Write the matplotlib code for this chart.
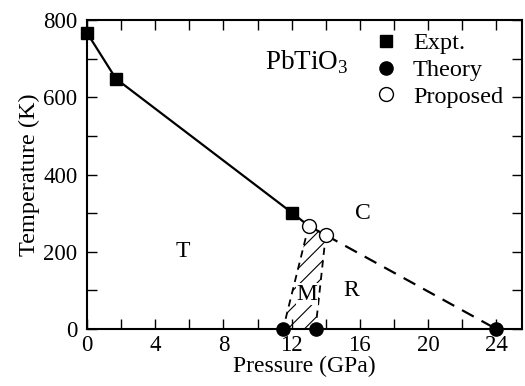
import matplotlib
matplotlib.use("Agg")
import matplotlib.pyplot as plt
from matplotlib.ticker import MultipleLocator

plt.rcParams['font.family'] = ['Liberation Serif', 'DejaVu Serif']
plt.rcParams['mathtext.fontset'] = 'custom'
plt.rcParams['mathtext.rm'] = 'Liberation Serif'
plt.rcParams['hatch.linewidth'] = 0.8

expt_p = [0.0, 1.7, 12.05]
expt_t = [767, 648, 300]
theory_p = [11.5, 13.4, 24.0]
theory_t = [0, 0, 0]
prop_p = [13.0, 14.0]
prop_t = [267, 243]

fig = plt.figure(figsize=(5.25, 3.86), dpi=100)
ax = fig.add_axes([0.1657, 0.1477, 0.994 - 0.1657, 0.948 - 0.1477])

# hatched M region
ax.fill([theory_p[0], prop_p[0], prop_p[1], theory_p[1]],
        [theory_t[0], prop_t[0], prop_t[1], theory_t[1]],
        facecolor='none', edgecolor='black', hatch='//', linewidth=0)

# solid boundary
ax.plot(expt_p + prop_p, expt_t + prop_t, color='black', lw=1.6, zorder=2)
# dashed boundaries
ax.plot([prop_p[1], theory_p[2]], [prop_t[1], theory_t[2]], color='black', lw=1.6,
        dashes=(6, 4), zorder=2)
ax.plot([prop_p[0], theory_p[0]], [prop_t[0], theory_t[0]], color='black', lw=1.3,
        dashes=(4, 3), zorder=2)
ax.plot([prop_p[1], theory_p[1]], [prop_t[1], theory_t[1]], color='black', lw=1.3,
        dashes=(4, 3), zorder=2)

ax.plot(expt_p, expt_t, 's', color='black', ms=8.5, ls='none', label='Expt.', zorder=4, clip_on=False)
ax.plot(theory_p, theory_t, 'o', color='black', ms=9.5, ls='none', label='Theory', zorder=4, clip_on=False)
ax.plot(prop_p, prop_t, 'o', mfc='white', mec='black', mew=1.0, ms=10, ls='none',
        label='Proposed', zorder=4, clip_on=False)

ax.set_xlim(0, 25.5)
ax.set_ylim(0, 800)
ax.xaxis.set_major_locator(MultipleLocator(4))
ax.xaxis.set_minor_locator(MultipleLocator(2))
ax.yaxis.set_major_locator(MultipleLocator(200))
ax.yaxis.set_minor_locator(MultipleLocator(100))
ax.tick_params(which='both', direction='in', top=True, right=True, labelsize=16.5)
ax.tick_params(which='major', length=7, width=1)
ax.tick_params(which='minor', length=7, width=1)
ax.tick_params(axis='x', pad=4)
ax.tick_params(axis='y', pad=7)
for s in ax.spines.values():
    s.set_linewidth(1.5)

ax.set_xlabel('Pressure (GPa)', fontsize=17, labelpad=0)
ax.set_ylabel('Temperature (K)', fontsize=17.5, labelpad=2)

ax.text(12.9, 692, r'PbTiO$_3$', fontsize=19.5, ha='center', va='center')
ax.text(5.6, 200, 'T', fontsize=17, ha='center', va='center')
ax.text(16.2, 298, 'C', fontsize=17, ha='center', va='center')
ax.text(12.9, 90, 'M', fontsize=17, ha='center', va='center',
        bbox=dict(facecolor='white', edgecolor='none', pad=0.5))
ax.text(15.5, 100, 'R', fontsize=17, ha='center', va='center')

ax.legend(loc='upper right', bbox_to_anchor=(0.985, 1.0), frameon=False, fontsize=17.5,
          handlelength=0.8, handletextpad=0.7, labelspacing=0.2, borderaxespad=0.1,
          markerscale=1.0)

fig.savefig('out.png', dpi=100)
